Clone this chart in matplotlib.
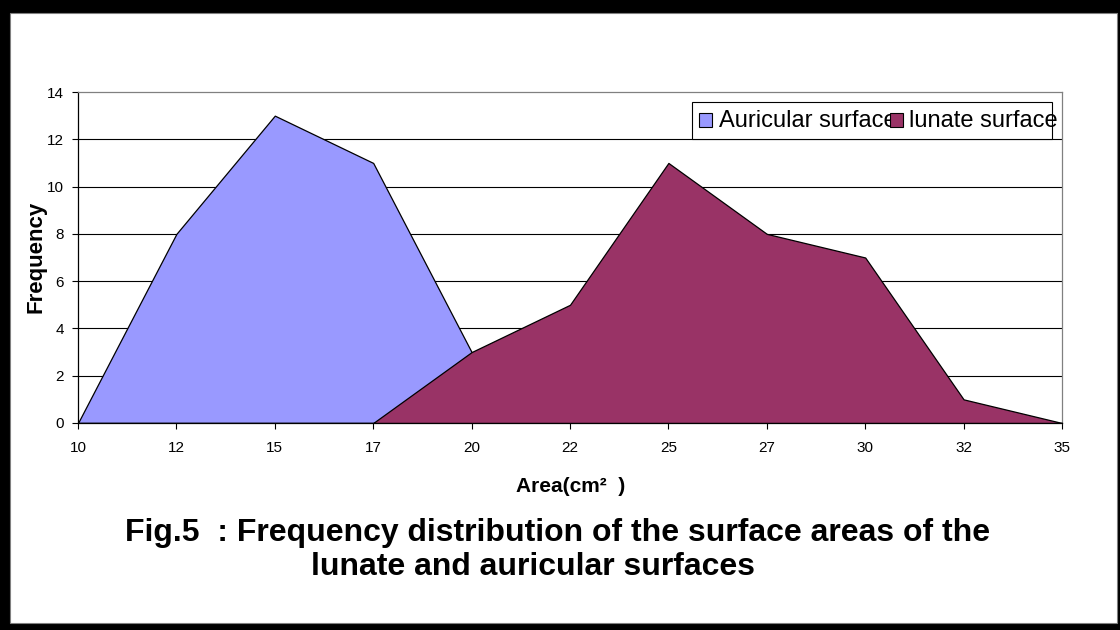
import matplotlib
matplotlib.use("Agg")
import matplotlib.pyplot as plt
from matplotlib.patches import Rectangle

plt.rcParams['font.family'] = ['Liberation Sans', 'DejaVu Sans']

categories = ['10', '12', '15', '17', '20', '22', '25', '27', '30', '32', '35']
auricular = [0, 8, 13, 11, 3, 0, 0, 0, 0, 0, 0]
lunate = [0, 0, 0, 0, 3, 5, 11, 8, 7, 1, 0]
series_names = ['Auricular surface', 'lunate surface']
colors = ['#9999FF', '#993366']
y_ticks = [0, 2, 4, 6, 8, 10, 12, 14]

W, H = 1120, 630
fig = plt.figure(figsize=(W / 100, H / 100), dpi=100)

def fx(px):
    return px / W

def fy(py):
    return 1 - py / H

# outer frame
fig.patches.append(Rectangle((0, 0), 1, 1, transform=fig.transFigure,
                             facecolor='black', edgecolor='none', zorder=-10))
fig.patches.append(Rectangle((fx(10), fy(623)), fx(1117 - 10), (623 - 13) / H,
                             transform=fig.transFigure, facecolor='white',
                             edgecolor='#808080', linewidth=0.8, zorder=-9))

ax = fig.add_axes([fx(78), fy(423), fx(1062 - 78), (423 - 92) / H])
x = list(range(len(categories)))
ax.fill_between(x, auricular, 0, facecolor=colors[0], edgecolor='black',
                linewidth=0.9, zorder=3)
ax.fill_between(x, lunate, 0, facecolor=colors[1], edgecolor='black',
                linewidth=0.9, zorder=4)

ax.set_xlim(0, len(categories) - 1)
ax.set_ylim(0, 14)
ax.set_xticks(x)
ax.set_xticklabels(categories, fontsize=11)
ax.set_yticks(y_ticks)
ax.set_yticklabels([str(v) for v in y_ticks], fontsize=11)
ax.tick_params(direction='out', length=4, width=0.8, color='black', pad=6)
ax.tick_params(axis='x', pad=9)
for v in y_ticks[1:-1]:
    ax.axhline(v, color='black', linewidth=0.8, zorder=1)
ax.spines['top'].set_color('#808080')
ax.spines['right'].set_color('#808080')
ax.spines['left'].set_color('black')
ax.spines['bottom'].set_color('black')
for s in ax.spines.values():
    s.set_linewidth(0.9)
ax.spines['bottom'].set_zorder(6)

fig.text(fx(36), fy(257), 'Frequency', fontsize=16, fontweight='bold',
         rotation=90, ha='center', va='center')
fig.text(fx(571), fy(487), 'Area(cm\u00b2  )', fontsize=15, fontweight='bold',
         ha='center', va='center')

# legend
fig.patches.append(Rectangle((fx(692), fy(139)), fx(1052 - 692), (139 - 102) / H,
                             transform=fig.transFigure, facecolor='white',
                             edgecolor='black', linewidth=0.8, zorder=5))
fig.text(fx(719), fy(121), series_names[0], fontsize=17, ha='left',
         va='center', zorder=6)
fig.text(fx(909), fy(121), series_names[1], fontsize=17, ha='left',
         va='center', zorder=6)
fig.patches.append(Rectangle((fx(699), fy(127)), fx(13), 14 / H,
                             transform=fig.transFigure, facecolor=colors[0],
                             edgecolor='black', linewidth=0.8, zorder=7))
fig.patches.append(Rectangle((fx(890), fy(127)), fx(13), 14 / H,
                             transform=fig.transFigure, facecolor=colors[1],
                             edgecolor='black', linewidth=0.8, zorder=7))

fig.text(fx(558), fy(533), 'Fig.5  : Frequency distribution of the surface areas of the',
         fontsize=23, fontweight='bold', ha='center', va='center')
fig.text(fx(533), fy(567), 'lunate and auricular surfaces',
         fontsize=23, fontweight='bold', ha='center', va='center')

fig.savefig('out.png', dpi=100)
